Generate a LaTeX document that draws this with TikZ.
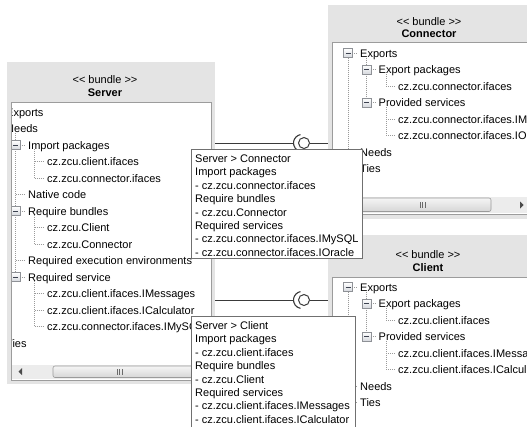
\documentclass[tikz,border=0pt]{standalone}
\usepackage{fontspec}
\setmainfont{Liberation Sans}
\newcommand\ui{\fontsize{11}{13}\selectfont}
\newcommand\guil{<\kern0pt<}
\newcommand\guir{>\kern0pt>}

\definecolor{framegray}{HTML}{E4E4E4}
\definecolor{listborder}{HTML}{9C9C9C}
\definecolor{treegray}{HTML}{9A9A9A}
\definecolor{expborder}{HTML}{8E9196}
\definecolor{expfill}{HTML}{D6D9DE}
\definecolor{minuscol}{HTML}{3C4250}
\definecolor{tipborder}{HTML}{707070}
\definecolor{wiregray}{HTML}{3A3A3A}
\definecolor{trackgray}{HTML}{ECECEC}
\definecolor{thumbtop}{HTML}{F5F5F5}
\definecolor{thumbbot}{HTML}{D6D6D6}
\definecolor{thumbedge}{HTML}{9A9A9A}
\definecolor{gripcol}{HTML}{6A6A6A}
\definecolor{glyph}{HTML}{4A4A4A}

\begin{document}
\begin{tikzpicture}[x=1pt, y=-1pt,
  frame/.style={fill=framegray, draw=none, inner sep=0pt, outer sep=0pt},
  listbox/.style={fill=white, draw=listborder, line width=0.8pt, inner sep=0pt, outer sep=0pt},
  lbl/.style={anchor=base west, inner sep=0pt, font=\ui},
  hdr/.style={anchor=base, inner sep=0pt, font=\ui},
  tline/.style={draw=treegray, line width=0.8pt, dash pattern=on 1pt off 1pt},
  expander/.style={draw=expborder, line width=0.6pt, top color=white, bottom color=expfill,
    minimum size=9pt, inner sep=0pt,
    path picture={\draw[minuscol, line width=0.9pt]
      ([xshift=-2.5pt]path picture bounding box.center) -- ([xshift=2.5pt]path picture bounding box.center);}},
  track/.style={fill=trackgray},
  thumb/.style={draw=thumbedge, line width=0.6pt, rounded corners=2pt, top color=thumbtop, bottom color=thumbbot},
  grip/.style={draw=gripcol, line width=0.7pt},
  arrowglyph/.style={fill=glyph},
  wire/.style={draw=wiregray, line width=1pt},
  socketarc/.style={draw=wiregray, line width=1.1pt},
  ball/.style={circle, draw=wiregray, fill=white, line width=1pt, minimum size=11pt, inner sep=0pt},
  tip/.style={fill=white, draw=tipborder, line width=0.8pt, inner sep=0pt, outer sep=0pt},
]
\useasboundingbox (0,0) rectangle (527,426);

% ---------------- Server bundle ----------------
\node[frame, anchor=north west, minimum width=208pt, minimum height=322pt] (srv) at (7,62) {};
\node[hdr] (srv-st) at (105,83) {\guil{} bundle \guir};
\node[hdr, font=\ui\bfseries] (srv-name) at (105,96) {Server};
\node[listbox, anchor=north west, minimum width=200pt, minimum height=278pt] (srv-list) at (11,102) {};
\begin{scope}
  \clip (12,103) rectangle (210,364);
  % tree lines
  \draw[tline] (15.5,133) -- (15.5,277);
  \foreach \yy in {145,194.5,211,260.5,277} \draw[tline] (15.5,\yy) -- (25.5,\yy);
  \draw[tline] (34.5,149) -- (34.5,178);
  \draw[tline] (34.5,215) -- (34.5,244);
  \draw[tline] (34.5,281) -- (34.5,326.5);
  \foreach \yy in {161.5,178,227.5,244,293.5,310,326.5} \draw[tline] (34.5,\yy) -- (44.5,\yy);
  \node[expander] (srv-x1) at (15.5,145) {};
  \node[expander] (srv-x2) at (15.5,211) {};
  \node[expander] (srv-x3) at (15.5,277) {};
  % items
  \foreach \rowi/\colx/\txt in {
     0/6/Exports, 1/6/Needs, 2/28/Import packages, 3/47/cz.zcu.client.ifaces,
     4/47/cz.zcu.connector.ifaces, 5/28/Native code, 6/28/Require bundles,
     7/47/cz.zcu.Client, 8/47/cz.zcu.Connector, 9/28/Required execution environments,
     10/28/Required service, 11/47/cz.zcu.client.ifaces.IMessages,
     12/47/cz.zcu.client.ifaces.ICalculator, 13/47/cz.zcu.connector.ifaces.IMySQL, 14/6/Ties}
    \node[lbl] (srv-\rowi) at (\colx,{116+16.5*\rowi}) {\txt};
\end{scope}
% horizontal scroll bar
\fill[track] (12,365) rectangle (210,379);
\draw[thumb] (53,366) rectangle (205,377.5);
\foreach \gx in {117,119.5,122} \draw[grip] (\gx,369) -- (\gx,374.5);
\fill[arrowglyph] (22,368) -- (18.5,371.5) -- (22,375) -- cycle;

% ---------------- Connector bundle ----------------
\node[frame, anchor=north west, minimum width=212pt, minimum height=214pt] (con) at (328,5) {};
\node[hdr] (con-st) at (429,25) {\guil{} bundle \guir};
\node[hdr, font=\ui\bfseries] (con-name) at (429,37) {Connector};
\node[listbox, anchor=north west, minimum width=220pt, minimum height=172pt] (con-list) at (332,42) {};
\draw[tline] (348,57.5) -- (348,168.5);
\foreach \yy in {152,168.5} \draw[tline] (348,\yy) -- (358,\yy);
\draw[tline] (366.5,57.5) -- (366.5,102.5);
\foreach \yy in {69.5,102.5} \draw[tline] (366.5,\yy) -- (376.5,\yy);
\draw[tline] (386,74) -- (386,86);
\draw[tline] (386,107) -- (386,135.5);
\foreach \yy in {86,119,135.5} \draw[tline] (386,\yy) -- (396,\yy);
\draw[tline] (348,53) -- (358,53);
\node[expander] (con-x0) at (348,53) {};
\node[expander] (con-x1) at (366.5,69.5) {};
\node[expander] (con-x2) at (366.5,102.5) {};
\foreach \rowi/\colx/\txt in {
   0/360/Exports, 1/378.5/Export packages, 2/398/cz.zcu.connector.ifaces,
   3/378.5/Provided services, 4/398/cz.zcu.connector.ifaces.IMySQL,
   5/398/cz.zcu.connector.ifaces.IOracle, 6/360/Needs, 7/360/Ties}
  \node[lbl] (con-\rowi) at (\colx,{57+16.5*\rowi}) {\txt};
\fill[track] (333,197) rectangle (540,213);
\draw[thumb] (350,198) rectangle (491,211.5);
\foreach \gx in {420,422.5,425} \draw[grip] (\gx,202) -- (\gx,207.5);
\fill[arrowglyph] (520,201.5) -- (523.5,205) -- (520,208.5) -- cycle;

% ---------------- Client bundle ----------------
\node[frame, anchor=north west, minimum width=212pt, minimum height=200pt] (cli) at (328,235) {};
\node[hdr] (cli-st) at (428,258) {\guil{} bundle \guir};
\node[hdr, font=\ui\bfseries] (cli-name) at (428,271) {Client};
\node[listbox, anchor=north west, minimum width=220pt, minimum height=160pt] (cli-list) at (332,277) {};
\draw[tline] (348,291.5) -- (348,402.5);
\foreach \yy in {386,402.5} \draw[tline] (348,\yy) -- (358,\yy);
\draw[tline] (366.5,291.5) -- (366.5,336.5);
\foreach \yy in {303.5,336.5} \draw[tline] (366.5,\yy) -- (376.5,\yy);
\draw[tline] (386,308) -- (386,320);
\draw[tline] (386,341) -- (386,369.5);
\foreach \yy in {320,353,369.5} \draw[tline] (386,\yy) -- (396,\yy);
\draw[tline] (348,287) -- (358,287);
\node[expander] (cli-x0) at (348,287) {};
\node[expander] (cli-x1) at (366.5,303.5) {};
\node[expander] (cli-x2) at (366.5,336.5) {};
\foreach \rowi/\colx/\txt in {
   0/360/Exports, 1/378.5/Export packages, 2/398/cz.zcu.client.ifaces,
   3/378.5/Provided services, 4/398/cz.zcu.client.ifaces.IMessages,
   5/398/cz.zcu.client.ifaces.ICalculator, 6/360/Needs, 7/360/Ties}
  \node[lbl] (cli-\rowi) at (\colx,{291+16.5*\rowi}) {\txt};

% ---------------- ball-and-socket dependencies ----------------
\node[ball] (b1) at (304,143) {};
\draw[socketarc] ([xshift=-2pt]b1.center) ++(100:8.5) arc[start angle=100, end angle=260, radius=8.5];
\draw[wire] (srv.east |- b1.center) -- ([xshift=-10.5pt]b1.center);
\draw[wire] (b1.east) -- (con.west |- b1.center);

\node[ball] (b2) at (304,300) {};
\draw[socketarc] ([xshift=-2pt]b2.center) ++(100:8.5) arc[start angle=100, end angle=260, radius=8.5];
\draw[wire] (srv.east |- b2.center) -- ([xshift=-10.5pt]b2.center);
\draw[wire] (b2.east) -- (cli.west |- b2.center);

% ---------------- tooltips ----------------
\node[tip, anchor=north west, minimum width=171pt, minimum height=109pt] (tip1) at (191,149) {};
\foreach \rowi/\txt in {0/Server > Connector, 1/Import packages, 2/- cz.zcu.connector.ifaces,
   3/Require bundles, 4/- cz.zcu.Connector, 5/Required services,
   6/- cz.zcu.connector.ifaces.IMySQL, 7/- cz.zcu.connector.ifaces.IOracle}
  \node[lbl] (tip1-\rowi) at (195,{162.5+13.4*\rowi}) {\txt};

\node[tip, anchor=north west, minimum width=164pt, minimum height=125pt] (tip2) at (191,316) {};
\foreach \rowi/\txt in {0/Server > Client, 1/Import packages, 2/- cz.zcu.client.ifaces,
   3/Require bundles, 4/- cz.zcu.Client, 5/Required services,
   6/- cz.zcu.client.ifaces.IMessages, 7/- cz.zcu.client.ifaces.ICalculator}
  \node[lbl] (tip2-\rowi) at (195,{329.5+13.4*\rowi}) {\txt};
\end{tikzpicture}
\end{document}
